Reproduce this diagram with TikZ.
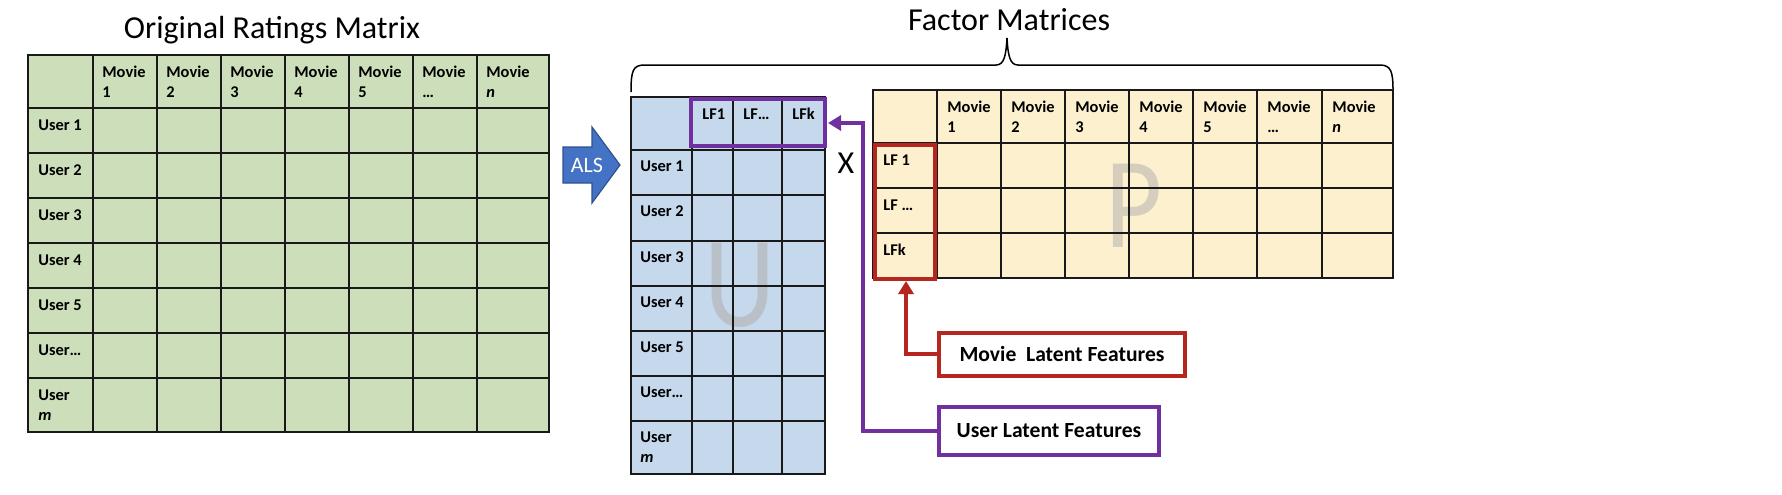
\documentclass[tikz,border=0pt]{standalone}
\usepackage{fontspec}
\setmainfont{Carlito}
\usetikzlibrary{arrows.meta}
\definecolor{ratinggreen}{RGB}{204,222,186}
\definecolor{userblue}{RGB}{197,216,236}
\definecolor{movieyellow}{RGB}{252,240,207}
\definecolor{lfpurple}{RGB}{112,48,160}
\definecolor{lfred}{RGB}{181,38,31}
\definecolor{alsblue}{RGB}{68,114,196}
\definecolor{alsedge}{RGB}{47,82,143}
\tikzset{
	cell/.style={anchor=north west, inner sep=0pt, align=left, font=\fontsize{8.2}{10}\selectfont\bfseries},
	grid line/.style={line width=0.8pt, color=black!90, line cap=rect},
	latent box/.style={draw, line width=2pt, fill=white, inner sep=0pt, font=\fontsize{10.8}{12}\selectfont\bfseries},
	latent arrow/.style={line width=2.2pt, -{Triangle[length=6.5pt,width=7.5pt]}},
	big letter/.style={anchor=base, inner sep=0pt, font=\fontsize{65}{65}\selectfont, xscale=0.85}
}

\begin{document}
\begin{tikzpicture}[x=0.5pt, y=-0.5pt]
		%%%%% START %%%%%
		\useasboundingbox (0, 0) rectangle (1782, 494);
		\fill[white] (0, 0) rectangle (1782, 494);
		
		\node[font=\fontsize{16}{19}\selectfont, anchor=base] (ratingtitle) at (272, 38) {Original Ratings Matrix};
		\node[font=\fontsize{16}{19}\selectfont, anchor=base] (factortitle) at (1009, 30) {Factor Matrices};
		
		% ratings matrix
		\fill[ratinggreen] (28, 55) rectangle (549, 432);
		\foreach \x in {28, 93, 157, 221, 285, 349, 413, 477, 549}
			\draw[grid line] (\x, 55) -- (\x, 432);
		\foreach \y in {55, 108, 153, 198, 243, 288, 333, 378, 432}
			\draw[grid line] (28, \y) -- (549, \y);
		\foreach \x/\t [count=\i] in {93/1, 157/2, 221/3, 285/4, 349/5, 413/…, 477/\textit{n}}
			\node[cell] (rmovie\i) at (\x+9, 66) {Movie\\\t};
		\foreach \y/\t [count=\i] in {108/User 1, 153/User 2, 198/User 3, 243/User 4, 288/User 5, 333/User…, 378/User\\\textit{m}}
			\node[cell] (ruser\i) at (38, \y+11) {\t};
		
		% ALS arrow
		\draw[fill=alsblue, draw=alsedge, line width=0.6pt] (563, 147) -- (592, 147) -- (592, 127) -- (620, 165) -- (592, 203) -- (592, 183) -- (563, 183) -- cycle;
		\node[font=\fontsize{11}{13}\selectfont, text=white] (als) at (587, 165) {ALS};
		
		% brace over the factor matrices
		\draw[line width=0.75pt] (631, 92) .. controls (631, 70) and (633, 65) .. (645, 65) -- (996, 65)
			.. controls (1004, 65) and (1006, 56) .. (1007, 38) .. controls (1008, 56) and (1010, 65) .. (1018, 65)
			-- (1380, 65) .. controls (1391, 65) and (1393, 72) .. (1393, 90);
		
		% U matrix
		\fill[userblue] (631, 97) rectangle (825, 474);
		\node[big letter, text={rgb,255:red,186;green,192;blue,200}] (uletter) at (740, 326) {U};
		\foreach \x in {631, 692, 733, 782, 825}
			\draw[grid line] (\x, 97) -- (\x, 474);
		\foreach \y in {97, 150, 195, 241, 286, 331, 376, 421, 474}
			\draw[grid line] (631, \y) -- (825, \y);
		\foreach \x/\t [count=\i] in {692/LF1, 733/LF…, 782/LFk}
			\node[cell] (ulf\i) at (\x+10, 108) {\t};
		\foreach \y/\t [count=\i] in {150/User 1, 195/User 2, 241/User 3, 286/User 4, 331/User 5, 376/User…, 421/User\\\textit{m}}
			\node[cell] (uuser\i) at (640, \y+10) {\t};
		
		\node[font=\fontsize{16}{19}\selectfont] (times) at (846, 163) {X};
		
		% P matrix
		\fill[movieyellow] (873, 90) rectangle (1393, 278);
		\node[big letter, text={rgb,255:red,214;green,206;blue,188}] (pletter) at (1134, 247) {P};
		\foreach \x in {873, 937, 1001, 1065, 1129, 1193, 1257, 1322, 1393}
			\draw[grid line] (\x, 90) -- (\x, 278);
		\foreach \y in {90, 143, 188, 233, 278}
			\draw[grid line] (873, \y) -- (1393, \y);
		\foreach \x/\t [count=\i] in {937/1, 1001/2, 1065/3, 1129/4, 1193/5, 1257/…, 1322/\textit{n}}
			\node[cell] (pmovie\i) at (\x+10, 101) {Movie\\\t};
		\foreach \y/\t [count=\i] in {143/LF 1, 188/LF …, 233/LFk}
			\node[cell] (plf\i) at (883, \y+11) {\t};
		
		% latent feature highlights
		\draw[line width=2pt, lfpurple] (691, 99) rectangle (825, 146);
		\draw[line width=2pt, lfred] (875, 145) rectangle (935, 279);
		\coordinate (ufbox) at (828, 123);
		\coordinate (ufturn) at (863, 123);
		\coordinate (mfbox) at (906, 281);
		
		\node[latent box, draw=lfred, minimum width=123pt, minimum height=21.5pt] (mlab) at (1062, 354) {Movie\ \ Latent Features};
		\node[latent box, draw=lfpurple, minimum width=110pt, minimum height=24pt] (ulab) at (1049, 431) {User Latent Features};
		
		\draw[latent arrow, lfred] (mlab.west) -| (mfbox);
		\draw[latent arrow, lfpurple] (ulab.west) -| (ufturn) -- (ufbox);
		
		%%%%% END %%%%%
	\end{tikzpicture}
\end{document}
